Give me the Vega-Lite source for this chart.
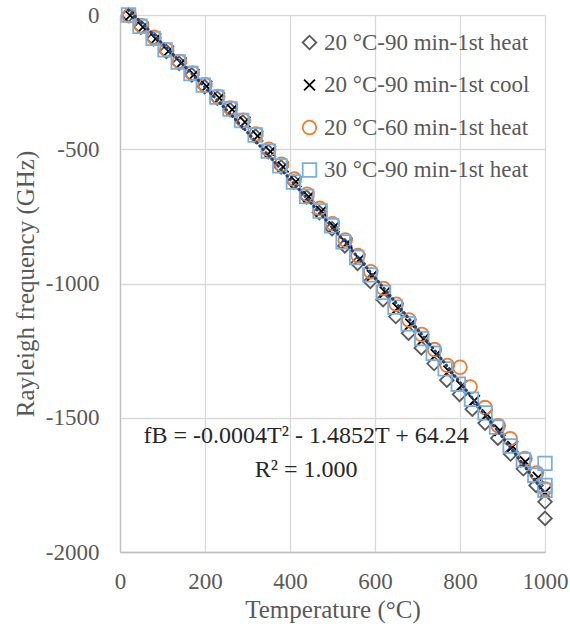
{
  "$schema": "https://vega.github.io/schema/vega-lite/v6.json",
  "width": 425,
  "height": 537,
  "autosize": {"type": "none"},
  "padding": {"left": 120, "top": 15, "right": 25, "bottom": 82},
  "background": "white",
  "config": {
    "view": {"stroke": null},
    "font": "Liberation Serif",
    "axis": {"labelFont": "Liberation Serif", "titleFont": "Liberation Serif"},
    "legend": {"labelFont": "Liberation Serif", "titleFont": "Liberation Serif"},
    "text": {"font": "Liberation Serif"}
  },
  "datasets": {
    "pts": [
      {"series": "20 °C-90 min-1st heat", "T": 20, "f": 0},
      {"series": "20 °C-90 min-1st heat", "T": 49, "f": -45},
      {"series": "20 °C-90 min-1st heat", "T": 79, "f": -89},
      {"series": "20 °C-90 min-1st heat", "T": 109, "f": -136},
      {"series": "20 °C-90 min-1st heat", "T": 139, "f": -180},
      {"series": "20 °C-90 min-1st heat", "T": 169, "f": -223},
      {"series": "20 °C-90 min-1st heat", "T": 199, "f": -267},
      {"series": "20 °C-90 min-1st heat", "T": 229, "f": -310},
      {"series": "20 °C-90 min-1st heat", "T": 259, "f": -353},
      {"series": "20 °C-90 min-1st heat", "T": 289, "f": -399},
      {"series": "20 °C-90 min-1st heat", "T": 319, "f": -451},
      {"series": "20 °C-90 min-1st heat", "T": 349, "f": -509},
      {"series": "20 °C-90 min-1st heat", "T": 379, "f": -566},
      {"series": "20 °C-90 min-1st heat", "T": 409, "f": -622},
      {"series": "20 °C-90 min-1st heat", "T": 439, "f": -678},
      {"series": "20 °C-90 min-1st heat", "T": 469, "f": -736},
      {"series": "20 °C-90 min-1st heat", "T": 499, "f": -796},
      {"series": "20 °C-90 min-1st heat", "T": 529, "f": -860},
      {"series": "20 °C-90 min-1st heat", "T": 559, "f": -925},
      {"series": "20 °C-90 min-1st heat", "T": 589, "f": -992},
      {"series": "20 °C-90 min-1st heat", "T": 619, "f": -1060},
      {"series": "20 °C-90 min-1st heat", "T": 649, "f": -1123},
      {"series": "20 °C-90 min-1st heat", "T": 679, "f": -1185},
      {"series": "20 °C-90 min-1st heat", "T": 709, "f": -1240},
      {"series": "20 °C-90 min-1st heat", "T": 739, "f": -1298},
      {"series": "20 °C-90 min-1st heat", "T": 769, "f": -1360},
      {"series": "20 °C-90 min-1st heat", "T": 799, "f": -1413},
      {"series": "20 °C-90 min-1st heat", "T": 829, "f": -1468},
      {"series": "20 °C-90 min-1st heat", "T": 859, "f": -1520},
      {"series": "20 °C-90 min-1st heat", "T": 889, "f": -1576},
      {"series": "20 °C-90 min-1st heat", "T": 919, "f": -1635},
      {"series": "20 °C-90 min-1st heat", "T": 949, "f": -1690},
      {"series": "20 °C-90 min-1st heat", "T": 979, "f": -1752},
      {"series": "20 °C-90 min-1st heat", "T": 1000, "f": -1813},
      {"series": "20 °C-90 min-1st heat", "T": 1000, "f": -1875},

      {"series": "20 °C-90 min-1st cool", "T": 24, "f": -2},
      {"series": "20 °C-90 min-1st cool", "T": 54, "f": -45},
      {"series": "20 °C-90 min-1st cool", "T": 84, "f": -89},
      {"series": "20 °C-90 min-1st cool", "T": 114, "f": -135},
      {"series": "20 °C-90 min-1st cool", "T": 144, "f": -179},
      {"series": "20 °C-90 min-1st cool", "T": 174, "f": -222},
      {"series": "20 °C-90 min-1st cool", "T": 204, "f": -266},
      {"series": "20 °C-90 min-1st cool", "T": 234, "f": -309},
      {"series": "20 °C-90 min-1st cool", "T": 264, "f": -352},
      {"series": "20 °C-90 min-1st cool", "T": 294, "f": -399},
      {"series": "20 °C-90 min-1st cool", "T": 324, "f": -451},
      {"series": "20 °C-90 min-1st cool", "T": 354, "f": -509},
      {"series": "20 °C-90 min-1st cool", "T": 384, "f": -566},
      {"series": "20 °C-90 min-1st cool", "T": 414, "f": -621},
      {"series": "20 °C-90 min-1st cool", "T": 444, "f": -677},
      {"series": "20 °C-90 min-1st cool", "T": 474, "f": -731},
      {"series": "20 °C-90 min-1st cool", "T": 504, "f": -789},
      {"series": "20 °C-90 min-1st cool", "T": 534, "f": -850},
      {"series": "20 °C-90 min-1st cool", "T": 564, "f": -909},
      {"series": "20 °C-90 min-1st cool", "T": 594, "f": -970},
      {"series": "20 °C-90 min-1st cool", "T": 624, "f": -1032},
      {"series": "20 °C-90 min-1st cool", "T": 654, "f": -1092},
      {"series": "20 °C-90 min-1st cool", "T": 684, "f": -1151},
      {"series": "20 °C-90 min-1st cool", "T": 714, "f": -1207},
      {"series": "20 °C-90 min-1st cool", "T": 744, "f": -1265},
      {"series": "20 °C-90 min-1st cool", "T": 774, "f": -1326},
      {"series": "20 °C-90 min-1st cool", "T": 804, "f": -1381},
      {"series": "20 °C-90 min-1st cool", "T": 834, "f": -1436},
      {"series": "20 °C-90 min-1st cool", "T": 864, "f": -1489},
      {"series": "20 °C-90 min-1st cool", "T": 894, "f": -1547},
      {"series": "20 °C-90 min-1st cool", "T": 924, "f": -1607},
      {"series": "20 °C-90 min-1st cool", "T": 954, "f": -1664},
      {"series": "20 °C-90 min-1st cool", "T": 984, "f": -1722},
      {"series": "20 °C-90 min-1st cool", "T": 1000, "f": -1778},

      {"series": "20 °C-60 min-1st heat", "T": 22, "f": -3},
      {"series": "20 °C-60 min-1st heat", "T": 51, "f": -40},
      {"series": "20 °C-60 min-1st heat", "T": 80, "f": -83},
      {"series": "20 °C-60 min-1st heat", "T": 110, "f": -129},
      {"series": "20 °C-60 min-1st heat", "T": 140, "f": -173},
      {"series": "20 °C-60 min-1st heat", "T": 170, "f": -216},
      {"series": "20 °C-60 min-1st heat", "T": 200, "f": -260},
      {"series": "20 °C-60 min-1st heat", "T": 230, "f": -303},
      {"series": "20 °C-60 min-1st heat", "T": 260, "f": -346},
      {"series": "20 °C-60 min-1st heat", "T": 290, "f": -392},
      {"series": "20 °C-60 min-1st heat", "T": 320, "f": -443},
      {"series": "20 °C-60 min-1st heat", "T": 350, "f": -500},
      {"series": "20 °C-60 min-1st heat", "T": 380, "f": -556},
      {"series": "20 °C-60 min-1st heat", "T": 410, "f": -611},
      {"series": "20 °C-60 min-1st heat", "T": 440, "f": -667},
      {"series": "20 °C-60 min-1st heat", "T": 470, "f": -720},
      {"series": "20 °C-60 min-1st heat", "T": 500, "f": -777},
      {"series": "20 °C-60 min-1st heat", "T": 530, "f": -838},
      {"series": "20 °C-60 min-1st heat", "T": 560, "f": -896},
      {"series": "20 °C-60 min-1st heat", "T": 590, "f": -956},
      {"series": "20 °C-60 min-1st heat", "T": 620, "f": -1018},
      {"series": "20 °C-60 min-1st heat", "T": 650, "f": -1077},
      {"series": "20 °C-60 min-1st heat", "T": 680, "f": -1136},
      {"series": "20 °C-60 min-1st heat", "T": 710, "f": -1190},
      {"series": "20 °C-60 min-1st heat", "T": 740, "f": -1246},
      {"series": "20 °C-60 min-1st heat", "T": 770, "f": -1305},
      {"series": "20 °C-60 min-1st heat", "T": 800, "f": -1312},
      {"series": "20 °C-60 min-1st heat", "T": 824, "f": -1385},
      {"series": "20 °C-60 min-1st heat", "T": 859, "f": -1462},
      {"series": "20 °C-60 min-1st heat", "T": 890, "f": -1530},
      {"series": "20 °C-60 min-1st heat", "T": 918, "f": -1578},
      {"series": "20 °C-60 min-1st heat", "T": 953, "f": -1652},
      {"series": "20 °C-60 min-1st heat", "T": 980, "f": -1706},
      {"series": "20 °C-60 min-1st heat", "T": 1000, "f": -1765},

      {"series": "30 °C-90 min-1st heat", "T": 20, "f": 0},
      {"series": "30 °C-90 min-1st heat", "T": 47, "f": -42},
      {"series": "30 °C-90 min-1st heat", "T": 78, "f": -87},
      {"series": "30 °C-90 min-1st heat", "T": 106, "f": -130},
      {"series": "30 °C-90 min-1st heat", "T": 137, "f": -175},
      {"series": "30 °C-90 min-1st heat", "T": 167, "f": -218},
      {"series": "30 °C-90 min-1st heat", "T": 196, "f": -261},
      {"series": "30 °C-90 min-1st heat", "T": 228, "f": -306},
      {"series": "30 °C-90 min-1st heat", "T": 259, "f": -350},
      {"series": "30 °C-90 min-1st heat", "T": 286, "f": -393},
      {"series": "30 °C-90 min-1st heat", "T": 318, "f": -447},
      {"series": "30 °C-90 min-1st heat", "T": 349, "f": -507},
      {"series": "30 °C-90 min-1st heat", "T": 376, "f": -562},
      {"series": "30 °C-90 min-1st heat", "T": 408, "f": -622},
      {"series": "30 °C-90 min-1st heat", "T": 439, "f": -676},
      {"series": "30 °C-90 min-1st heat", "T": 471, "f": -730},
      {"series": "30 °C-90 min-1st heat", "T": 498, "f": -785},
      {"series": "30 °C-90 min-1st heat", "T": 525, "f": -845},
      {"series": "30 °C-90 min-1st heat", "T": 557, "f": -903},
      {"series": "30 °C-90 min-1st heat", "T": 588, "f": -968},
      {"series": "30 °C-90 min-1st heat", "T": 620, "f": -1033},
      {"series": "30 °C-90 min-1st heat", "T": 647, "f": -1088},
      {"series": "30 °C-90 min-1st heat", "T": 678, "f": -1150},
      {"series": "30 °C-90 min-1st heat", "T": 710, "f": -1205},
      {"series": "30 °C-90 min-1st heat", "T": 737, "f": -1260},
      {"series": "30 °C-90 min-1st heat", "T": 765, "f": -1318},
      {"series": "30 °C-90 min-1st heat", "T": 796, "f": -1375},
      {"series": "30 °C-90 min-1st heat", "T": 827, "f": -1431},
      {"series": "30 °C-90 min-1st heat", "T": 859, "f": -1482},
      {"series": "30 °C-90 min-1st heat", "T": 886, "f": -1535},
      {"series": "30 °C-90 min-1st heat", "T": 918, "f": -1605},
      {"series": "30 °C-90 min-1st heat", "T": 949, "f": -1657},
      {"series": "30 °C-90 min-1st heat", "T": 976, "f": -1714},
      {"series": "30 °C-90 min-1st heat", "T": 1000, "f": -1670},
      {"series": "30 °C-90 min-1st heat", "T": 1000, "f": -1752},
      {"series": "30 °C-90 min-1st heat", "T": 1000, "f": -1770}
    ]
  },
  "layer": [
    {
      "data": {"name": "pts"},
      "mark": {"type": "point", "filled": false, "size": 185, "strokeWidth": 1.8, "opacity": 1},
      "encoding": {
        "x": {
          "field": "T", "type": "quantitative",
          "scale": {"domain": [0, 1000], "nice": false, "zero": false},
          "axis": {
            "values": [0, 200, 400, 600, 800, 1000],
            "labelExpr": "'' + datum.value",
            "title": "Temperature (°C)",
            "grid": true, "gridColor": "#D9D9D9", "gridWidth": 1.3,
            "domain": true, "domainColor": "#BFBFBF", "domainWidth": 1.3,
            "ticks": false,
            "labelFont": "Liberation Serif", "labelFontSize": 23, "labelColor": "#595959",
            "labelPadding": 18, "labelFlush": false, "labelOverlap": false,
            "titleFont": "Liberation Serif", "titleFontSize": 25, "titleFontWeight": "normal",
            "titleColor": "#595959", "titleY": 65, "titleBaseline": "alphabetic"
          }
        },
        "y": {
          "field": "f", "type": "quantitative",
          "scale": {"domain": [-2000, 0], "nice": false, "zero": false},
          "axis": {
            "values": [-2000, -1500, -1000, -500, 0],
            "labelExpr": "'' + datum.value",
            "title": "Rayleigh frequency (GHz)",
            "grid": true, "gridColor": "#D9D9D9", "gridWidth": 1.3,
            "domain": true, "domainColor": "#BFBFBF", "domainWidth": 1.3,
            "ticks": false,
            "labelFont": "Liberation Serif", "labelFontSize": 23, "labelColor": "#595959",
            "labelPadding": 21, "labelFlush": false, "labelOverlap": false,
            "titleFont": "Liberation Serif", "titleFontSize": 25, "titleFontWeight": "normal",
            "titleColor": "#595959", "titleX": -87, "titleY": 268.5, "titleBaseline": "alphabetic", "titleAlign": "center"
          }
        },
        "color": {
          "field": "series", "type": "nominal",
          "scale": {
            "domain": ["20 °C-90 min-1st heat", "20 °C-90 min-1st cool", "20 °C-60 min-1st heat", "30 °C-90 min-1st heat"],
            "range": ["#595959", "#000000", "#ED7D31", "#79AEE0"]
          },
          "legend": {
            "orient": "none", "legendX": 178, "legendY": 16, "title": null,
            "labelFont": "Liberation Serif", "labelFontSize": 23, "labelColor": "#595959", "labelLimit": 400,
            "rowPadding": 18.5, "symbolSize": 185, "symbolStrokeWidth": 1.8, "labelOffset": 3
          }
        },
        "shape": {
          "field": "series", "type": "nominal",
          "scale": {
            "domain": ["20 °C-90 min-1st heat", "20 °C-90 min-1st cool", "20 °C-60 min-1st heat", "30 °C-90 min-1st heat"],
            "range": ["diamond", "M-0.8,-0.8L0.8,0.8M-0.8,0.8L0.8,-0.8", "circle", "square"]
          },
          "legend": {
            "orient": "none", "legendX": 178, "legendY": 16, "title": null,
            "labelFont": "Liberation Serif", "labelFontSize": 23, "labelColor": "#595959", "labelLimit": 400,
            "rowPadding": 18.5, "symbolSize": 185, "symbolStrokeWidth": 1.8, "labelOffset": 3
          }
        }
      }
    },
    {
      "data": {"name": "pts"},
      "transform": [
        {"regression": "f", "on": "T", "method": "poly", "order": 2, "extent": [20, 1000]}
      ],
      "mark": {"type": "line", "color": "#264478", "strokeDash": [0.5, 4], "strokeCap": "round", "strokeWidth": 3},
      "encoding": {
        "x": {"field": "T", "type": "quantitative", "title": "Temperature (°C)"},
        "y": {"field": "f", "type": "quantitative", "title": "Rayleigh frequency (GHz)"}
      }
    },
    {
      "data": {"values": [{}]},
      "mark": {"type": "text", "text": "fB = -0.0004T² - 1.4852T + 64.24", "font": "Liberation Serif", "fontSize": 24, "color": "#262626", "align": "center", "baseline": "alphabetic"},
      "encoding": {"x": {"datum": 438}, "y": {"datum": -1595}}
    },
    {
      "data": {"values": [{}]},
      "mark": {"type": "text", "text": "R² = 1.000", "font": "Liberation Serif", "fontSize": 24, "color": "#262626", "align": "center", "baseline": "alphabetic"},
      "encoding": {"x": {"datum": 438}, "y": {"datum": -1721}}
    }
  ]
}
